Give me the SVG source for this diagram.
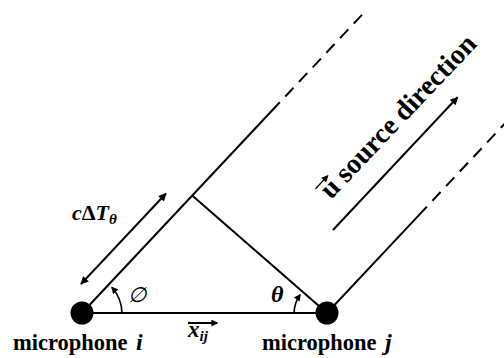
<svg xmlns="http://www.w3.org/2000/svg" width="504" height="358" viewBox="0 0 504 358">
<defs>
<style>
.ln{stroke:#000;stroke-width:2;fill:none}
.dash{stroke:#000;stroke-width:2;fill:none;stroke-dasharray:12 8}
.arc{stroke:#000;stroke-width:1.6;fill:none}
.lab{font-family:"Liberation Serif","Times New Roman",serif;font-weight:bold;fill:#000}
.mic{fill:#000}
</style>
<marker id="ah" viewBox="0 0 10 10" refX="9" refY="5" markerWidth="10" markerHeight="8" markerUnits="userSpaceOnUse" orient="auto-start-reverse">
<path d="M0,0 L10,5 L0,10 z" fill="#000"/>
</marker>
<marker id="ahs" viewBox="0 0 10 10" refX="8" refY="5" markerWidth="8" markerHeight="7" markerUnits="userSpaceOnUse" orient="auto">
<path d="M0,0 L10,5 L0,10 z" fill="#000"/>
</marker>
</defs>
<rect width="504" height="358" fill="#fff"/>
<g id="connectors">
<path class="ln" d="M82,313 L327,313"/>
<path class="ln" d="M82,313 L279.8,102.3"/>
<path class="dash" d="M285.3,96.5 L364.7,11.9"/>
<path class="ln" d="M327,313 L426.9,206.6"/>
<path class="dash" d="M432.4,200.7 L515.2,112.5"/>
<path class="ln" d="M192.2,195.6 L327,313"/>
<path class="ln" d="M81,284 L166,193.5" marker-start="url(#ah)" marker-end="url(#ah)"/>
<path class="ln" d="M333,230 L457.6,97.3" marker-end="url(#ah)"/>
<path class="arc" d="M122,313 A40,40 0 0 0 112,287.5" marker-end="url(#ahs)"/>
<path class="arc" d="M294,313 A33,33 0 0 1 300,295" marker-end="url(#ahs)"/>
<path class="ln" d="M188,323 L217,323" stroke-width="1.5" marker-end="url(#ahs)"/>
</g>
<g id="mic_i">
<circle class="mic" cx="82" cy="313" r="11.5"/>
<text class="lab" x="13" y="350" font-size="22.5">microphone <tspan x="136" font-style="italic" font-size="24">i</tspan></text>
</g>
<g id="mic_j">
<circle class="mic" cx="327" cy="313" r="11.5"/>
<text class="lab" x="262" y="350" font-size="22.5">microphone <tspan x="385" font-style="italic" font-size="24">j</tspan></text>
</g>
<g id="labels">
<text class="lab" x="72" y="220" font-size="22"><tspan font-style="italic">c</tspan>Δ<tspan font-style="italic">T</tspan><tspan font-style="italic" font-size="15" dy="4">θ</tspan></text>
<text x="128" y="302" font-size="21" font-family="'Liberation Serif','DejaVu Serif',serif" font-style="italic">∅</text>
<text class="lab" x="271" y="302" font-size="24" font-style="italic">θ</text>
<text x="188" y="337" font-size="23" font-family="'Liberation Serif',serif" font-style="italic" font-weight="bold">x<tspan font-size="15" dy="4">ij</tspan></text>
<g transform="translate(331,200) rotate(-46.5)">
<text class="lab" x="0" y="0" font-size="28">u source direction</text>
<path d="M-2.5,-19 L15,-19" stroke="#000" stroke-width="1.3" fill="none" marker-end="url(#ahs)"/>
</g>
</g>
</svg>
